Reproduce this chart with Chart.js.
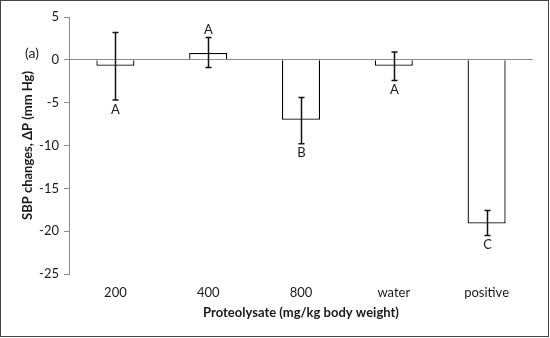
<!DOCTYPE html>
<html>
<head>
<meta charset="utf-8">
<script src="https://cdn.jsdelivr.net/npm/chart.js@4"></script>
<style>
  body { margin: 0; background: #fff; }
  #wrap { width: 550px; height: 338px; position: relative; }
</style>
</head>
<body>
<div id="wrap"><canvas id="sbpChart"></canvas></div>
<script>
// Data
const doses = ["200", "400", "800", "water", "positive"];
const sbpChange = [-0.7, 0.8, -7.0, -0.7, -19.1];
const errHigh = [3.2, 2.6, -4.4, 0.9, -17.6];
const errLow = [-4.7, -0.9, -9.8, -2.4, -20.5];
const groupLetters = ["A", "A", "B", "A", "C"];
const yTicks = [5, 0, -5, -10, -15, -20, -25];

const textColor = "#1a1a1a";
const axisGray = "#8c8c8c";
const fontFam = "Lato, 'Open Sans', sans-serif";

// Error bars + significance letters, drawn through the chart scales
const errorBarPlugin = {
  id: "errorBars",
  afterDatasetsDraw(chart) {
    const { ctx, scales } = chart;
    const x = scales.x, y = scales.y;
    ctx.save();
    ctx.strokeStyle = "#111";
    ctx.lineWidth = 1.5;
    ctx.fillStyle = textColor;
    ctx.font = "13px " + fontFam;
    ctx.textAlign = "center";
    doses.forEach((d, i) => {
      const cx = Math.round(x.getPixelForValue(i)) + 0.5;
      const yTop = y.getPixelForValue(errHigh[i]);
      const yBot = y.getPixelForValue(errLow[i]);
      ctx.beginPath();
      ctx.moveTo(cx, yTop); ctx.lineTo(cx, yBot);
      ctx.moveTo(cx - 3, yTop); ctx.lineTo(cx + 3, yTop);
      ctx.moveTo(cx - 3, yBot); ctx.lineTo(cx + 3, yBot);
      ctx.stroke();
      if (sbpChange[i] >= 0) {
        ctx.textBaseline = "bottom";
        ctx.fillText(groupLetters[i], cx, yTop - 1);
      } else {
        ctx.textBaseline = "top";
        ctx.fillText(groupLetters[i], cx, yBot + 3);
      }
    });
    // panel label
    ctx.font = "14px " + fontFam;
    ctx.textAlign = "left";
    ctx.textBaseline = "middle";
    ctx.fillText("(a)", 25, 53);
    ctx.restore();
  }
};

const framePlugin = {
  id: "frame",
  afterDraw(chart) {
    const ctx = chart.ctx;
    ctx.save();
    ctx.strokeStyle = "#444";
    ctx.lineWidth = 1;
    ctx.strokeRect(0.5, 0.5, 548, 336);
    ctx.restore();
  }
};

new Chart(document.getElementById("sbpChart"), {
  type: "bar",
  data: {
    labels: doses,
    datasets: [{
      data: sbpChange,
      backgroundColor: "#ffffff",
      borderColor: "#000",
      borderWidth: 1.3,
      barPercentage: 0.82,
      categoryPercentage: 0.5
    }]
  },
  options: {
    responsive: true,
    maintainAspectRatio: false,
    animation: false,
    layout: { padding: { top: 17, right: 17, left: 20, bottom: 17 } },
    plugins: { legend: { display: false }, tooltip: { enabled: false } },
    scales: {
      x: {
        grid: { display: false },
        border: { display: false },
        ticks: { color: textColor, font: { size: 13, family: fontFam }, padding: 3 },
        title: {
          display: true,
          text: "Proteolysate (mg/kg body weight)",
          color: textColor,
          font: { size: 13, weight: "bold", family: fontFam },
          padding: { top: 2, bottom: 0 }
        },
        afterFit(scale) { scale.height = 47; }
      },
      y: {
        min: -25,
        max: 5,
        afterBuildTicks(scale) { scale.ticks = yTicks.map(v => ({ value: v })); },
        grid: {
          drawOnChartArea: true,
          color: ctx => (ctx.tick && ctx.tick.value === 0 ? axisGray : "transparent"),
          tickColor: axisGray,
          tickLength: 5
        },
        border: { display: true, color: axisGray },
        ticks: { color: textColor, font: { size: 13, family: fontFam }, padding: 5 },
        title: {
          display: true,
          text: "SBP changes, \u0394P (mm Hg)",
          color: textColor,
          font: { size: 13, weight: "bold", family: fontFam },
          padding: { top: 0, bottom: 0 }
        },
        afterFit(scale) { scale.width = 49; }
      }
    }
  },
  plugins: [errorBarPlugin, framePlugin]
});
</script>
</body>
</html>
